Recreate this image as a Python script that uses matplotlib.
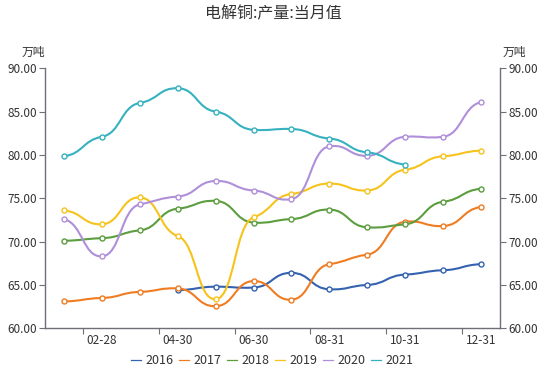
import numpy as np
import matplotlib
matplotlib.use("Agg")
import matplotlib.pyplot as plt
from matplotlib.path import Path
from matplotlib.patches import PathPatch
from matplotlib.lines import Line2D

plt.rcParams['font.family'] = ['Noto Sans CJK SC', 'DejaVu Sans']

months = ["01-31", "02-28", "03-31", "04-30", "05-31", "06-30",
          "07-31", "08-31", "09-30", "10-31", "11-30", "12-31"]
years = ["2016", "2017", "2018", "2019", "2020", "2021"]

s2016 = [None, None, None, 64.4, 64.8, 64.7, 66.4, 64.5, 65.0, 66.2, 66.7, 67.4]
s2017 = [63.1, 63.5, 64.2, 64.6, 62.55, 65.45, 63.3, 67.4, 68.5, 72.3, 71.8, 74.0]
s2018 = [70.1, 70.4, 71.3, 73.8, 74.7, 72.2, 72.6, 73.7, 71.65, 72.0, 74.6, 76.1]
s2019 = [73.6, 72.0, 75.1, 70.65, 63.35, 72.8, 75.5, 76.7, 75.9, 78.3, 79.85, 80.5]
s2020 = [72.6, 68.3, 74.3, 75.2, 77.0, 75.9, 74.9, 81.0, 79.9, 82.1, 82.1, 86.1]
s2021 = [79.85, 82.1, 86.0, 87.7, 85.0, 82.9, 83.0, 81.9, 80.3, 78.9, None, None]
series = [s2016, s2017, s2018, s2019, s2020, s2021]
colors = ["#3462b0", "#f07c22", "#5b9d3f", "#f6c31c", "#b08fd9", "#36b1c0"]

fig = plt.figure(figsize=(5.5, 3.77), dpi=100)
ax = fig.add_axes([45/550, 1-328.3/377, 455/550, 260/377])
ax.set_xlim(-0.5, 11.5)
ax.set_ylim(60, 90)

smooth = 0.5
ky = 0.25  # tangents are flattened toward horizontal at each point

def smooth_path(xs, ys):
    n = len(xs)
    P = np.column_stack([xs, ys]).astype(float)
    verts = [tuple(P[0])]
    codes = [Path.MOVETO]
    cps_out, cps_in = [], []
    for i in range(n):
        prev = P[i-1] if i > 0 else P[i]
        nxt = P[i+1] if i < n-1 else P[i]
        v = (nxt - prev) * np.array([1.0, ky])
        l0 = abs(P[i][0]-prev[0])
        l1 = abs(nxt[0]-P[i][0])
        r = l1/(l0+l1) if (l0+l1) > 0 else 0.5
        cps_out.append(P[i] + v*smooth*r)
        cps_in.append(P[i] - v*smooth*(1-r))
    for i in range(n-1):
        verts += [tuple(cps_out[i]), tuple(cps_in[i+1]), tuple(P[i+1])]
        codes += [Path.CURVE4]*3
    return Path(verts, codes)

x_all = np.arange(12)
for vals, c in zip(series, colors):
    idx = [i for i, v in enumerate(vals) if v is not None]
    xs = x_all[idx]
    ys = np.array([vals[i] for i in idx])
    ax.add_patch(PathPatch(smooth_path(xs, ys), fill=False, edgecolor=c, lw=1.5, zorder=3))
    ax.plot(xs, ys, linestyle='none', marker='o', ms=3.6, mfc='white', mec=c, mew=1.0, zorder=4)

axis_col = "#6e7079"
ax.spines['top'].set_visible(False)
for sp in ['left', 'right', 'bottom']:
    ax.spines[sp].set_color(axis_col)
    ax.spines[sp].set_linewidth(1.0)

ax.set_yticks(np.arange(60, 91, 5))
ax.set_yticklabels([f"{v:.2f}" for v in np.arange(60, 91, 5)])
ax.tick_params(axis='y', which='both', left=True, right=True, labelleft=True, labelright=True,
               labelsize=8.5, colors="#333333", length=4, color=axis_col, pad=2)
ax.set_xticks([0.5, 2.5, 4.5, 6.5, 8.5, 10.5])
ax.set_xticklabels([])
ax.set_xticks([1, 3, 5, 7, 9, 11], minor=True)
ax.set_xticklabels([months[i] for i in [1, 3, 5, 7, 9, 11]], minor=True)
ax.tick_params(axis='x', which='major', length=4, color=axis_col)
ax.tick_params(axis='x', which='minor', length=0, labelsize=8.5, colors="#333333", pad=4)

fig.text(45/550, 1-52/377, "万吨", ha='right', va='center', fontsize=8.5, color="#333333")
fig.text(500/550+0.005, 1-52/377, "万吨", ha='left', va='center', fontsize=8.5, color="#333333")
fig.text(273/550, 1-14/377, "电解铜:产量:当月值", ha='center', va='center', fontsize=11.5, color="#333333")

handles = [Line2D([0], [0], color=c, lw=0.9) for c in colors]
leg = fig.legend(handles, years, loc='center', bbox_to_anchor=(272/550, 1-361/377), ncol=6,
                 frameon=False, fontsize=9, handlelength=0.8, handletextpad=0.35,
                 columnspacing=0.45, labelcolor="#333333")

fig.savefig("out.png", dpi=100)
